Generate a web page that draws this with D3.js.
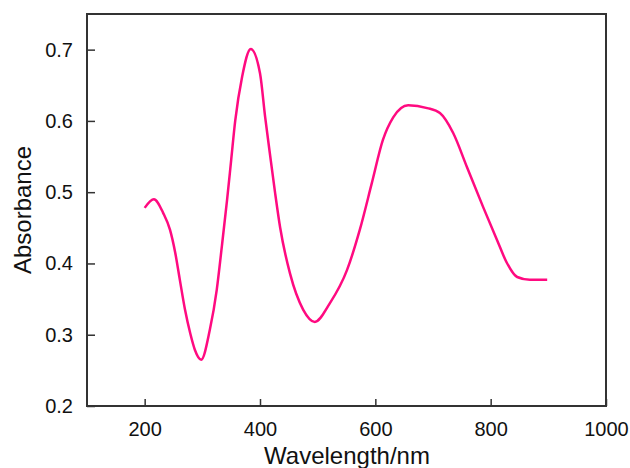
<!DOCTYPE html>
<html>
<head>
<meta charset="utf-8">
<script src="https://cdn.jsdelivr.net/npm/d3@7"></script>
<style>
  body { margin: 0; background: #fff; }
  svg { display: block; font-family: "Liberation Sans", Arial, Helvetica, sans-serif; }
</style>
</head>
<body>
<div id="chart"></div>
<script>
// absorbance spectrum
const wavelength = [200, 216, 232, 244, 253, 261, 270, 279, 287, 298, 313, 325, 334, 343, 350, 357, 369, 384, 400, 409, 417, 426, 435, 452, 475, 495, 521, 551, 573, 594, 613, 631, 657, 690, 712, 735, 759, 787, 811, 828, 846, 868, 898];
const absorbance = [0.478, 0.490, 0.471, 0.447, 0.415, 0.377, 0.335, 0.302, 0.279, 0.265, 0.307, 0.363, 0.425, 0.490, 0.545, 0.600, 0.662, 0.701, 0.667, 0.605, 0.555, 0.500, 0.450, 0.386, 0.335, 0.318, 0.344, 0.391, 0.447, 0.513, 0.573, 0.605, 0.622, 0.618, 0.611, 0.583, 0.535, 0.479, 0.433, 0.401, 0.381, 0.377, 0.377];
const xTicks = [200, 400, 600, 800, 1000];
const yTicks = [0.2, 0.3, 0.4, 0.5, 0.6, 0.7];

const width = 630;
const height = 468;
const margin = { top: 14, right: 24, bottom: 62, left: 87 };

const data = wavelength.map((w, i) => ({ w, a: absorbance[i] }));

const svg = d3.select('#chart')
    .append('svg')
    .attr('width', width)
    .attr('height', height);

const x = d3.scaleLinear()
    .domain([100, 1000])
    .range([margin.left, width - margin.right]);

const y = d3.scaleLinear()
    .domain([0.2, 0.75])
    .range([height - margin.bottom, margin.top]);

// frame
svg.append('rect')
    .attr('x', margin.left)
    .attr('y', margin.top)
    .attr('width', width - margin.left - margin.right)
    .attr('height', height - margin.top - margin.bottom)
    .attr('fill', 'none')
    .attr('stroke', '#333')
    .attr('stroke-width', 2);

function xAxis(g) {
    g.attr('transform', `translate(0,${height - margin.bottom})`)
        .call(d3.axisBottom(x).tickValues(xTicks).tickSize(-7).tickPadding(16).tickFormat(d3.format('d')))
        .attr('font-size', '20px')
        .attr('font-family', null);
    g.select('.domain').remove();
    g.selectAll('.tick line').attr('stroke', '#333').attr('stroke-width', 1.5);
    g.selectAll('.tick text').attr('fill', '#111');
}

function yAxis(g) {
    g.attr('transform', `translate(${margin.left},0)`)
        .call(d3.axisLeft(y).tickValues(yTicks).tickSize(-8).tickPadding(14).tickFormat(d3.format('.1f')))
        .attr('font-size', '20px')
        .attr('font-family', null);
    g.select('.domain').remove();
    g.selectAll('.tick line').attr('stroke', '#333').attr('stroke-width', 1.5);
    g.selectAll('.tick text').attr('fill', '#111');
}

svg.append('g').call(xAxis);
svg.append('g').call(yAxis);

svg.append('path')
    .datum(data)
    .attr('fill', 'none')
    .attr('stroke', '#ff0a80')
    .attr('stroke-width', 2.5)
    .attr('d', d3.line()
        .x(d => x(d.w))
        .y(d => y(d.a))
        .curve(d3.curveMonotoneX));

svg.append('text')
    .attr('x', 347)
    .attr('y', 464)
    .attr('text-anchor', 'middle')
    .attr('font-size', '24px')
    .attr('fill', '#111')
    .text('Wavelength/nm');

svg.append('text')
    .attr('transform', `translate(31,210) rotate(-90)`)
    .attr('text-anchor', 'middle')
    .attr('font-size', '24px')
    .attr('fill', '#111')
    .text('Absorbance');
</script>
</body>
</html>
